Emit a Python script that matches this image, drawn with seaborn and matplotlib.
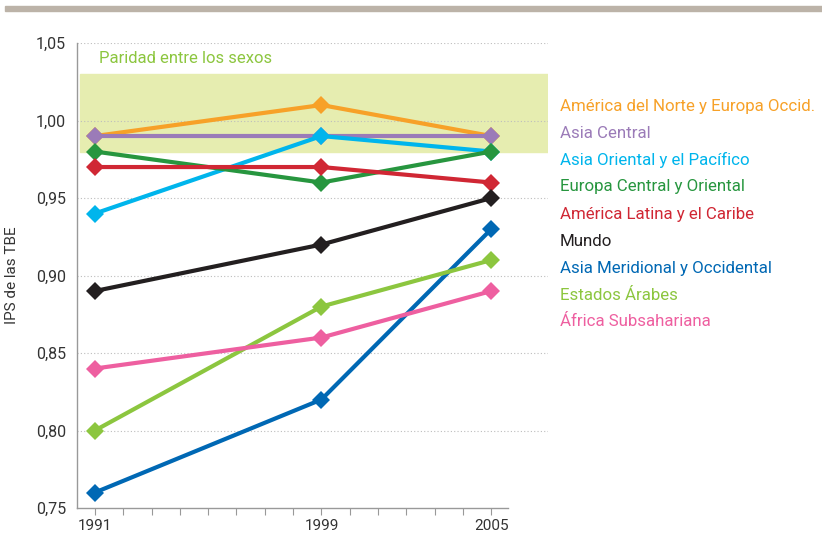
import pandas as pd
import numpy as np
import matplotlib
matplotlib.use('Agg')
import matplotlib.pyplot as plt
from matplotlib.patches import Rectangle
import seaborn as sns

sns.set_theme(style="white")
plt.rcParams['font.family'] = ['Roboto', 'DejaVu Sans']

# ── Data ───────────────────────────────────────────────────
years = [1991, 1999, 2005]
regions = ["América del Norte y Europa Occid.", "Asia Central",
           "Asia Oriental y el Pacífico", "Europa Central y Oriental",
           "América Latina y el Caribe", "Mundo",
           "Asia Meridional y Occidental", "Estados Árabes",
           "África Subsahariana"]
na_europe  = [0.99, 1.01, 0.99]
asia_c     = [0.99, 0.99, 0.99]
asia_or    = [0.94, 0.99, 0.98]
europa_co  = [0.98, 0.96, 0.98]
am_latina  = [0.97, 0.97, 0.96]
mundo      = [0.89, 0.92, 0.95]
asia_mer   = [0.76, 0.82, 0.93]
arabes     = [0.80, 0.88, 0.91]
africa_ss  = [0.84, 0.86, 0.89]
series = [na_europe, asia_c, asia_or, europa_co, am_latina,
          mundo, asia_mer, arabes, africa_ss]
colors = ["#f7a128", "#9b7bb8", "#00b5ec", "#27963f", "#d02734",
          "#231f20", "#0068b4", "#8cc63f", "#ee5fa0"]
yticks = [0.75, 0.80, 0.85, 0.90, 0.95, 1.00, 1.05]
parity = (0.98, 1.03)

df = pd.DataFrame([(r, y, v) for r, vals in zip(regions, series)
                   for y, v in zip(years, vals)],
                  columns=["Region", "Year", "IPS"])

# ── Figure ─────────────────────────────────────────────────
fig = plt.figure(figsize=(8.22, 5.36), dpi=100)
ax = fig.add_axes([0.0937, 0.0522, 0.573, 0.8675])

fig.patches.append(Rectangle((5/822, 1 - 11/536), 1, 5/536,
                             transform=fig.transFigure, color="#bcb3a8"))

ax.axhspan(parity[0], parity[1], xmin=0.006, xmax=1, color="#e6edb0", zorder=0)
for t in yticks[1:]:
    ax.axhline(t, color="#bdbdbd", lw=0.8, ls=(0, (1, 2)), zorder=0.5)
ax.text(1991.15, 1.04, "Paridad entre los sexos", color="#8cc63f",
        fontsize=12, va="center", ha="left")

for reg, col in zip(regions, colors):
    sns.lineplot(data=df[df["Region"] == reg], x="Year", y="IPS", ax=ax,
                 color=col, lw=3.0, marker="D", markersize=9.5,
                 markeredgewidth=0, legend=False)

# label list on the right
for i, (reg, col) in enumerate(zip(regions, colors)):
    fig.text(560/822, 1 - (106 + 27*i)/536, reg, color=col, fontsize=12.2,
             va="center", ha="left")

ax.set_xlim(1990.37, 2007)
ax.set_ylim(0.75, 1.05)
ax.set_xticks(range(1991, 2006))
ax.set_xticklabels([str(y) if y in years else "" for y in range(1991, 2006)],
                   fontsize=11, color="#333333")
ax.set_yticks(yticks)
ax.set_yticklabels([f"{t:.2f}".replace(".", ",") for t in yticks],
                   fontsize=11.5, color="#333333")
ax.tick_params(axis="x", bottom=True, direction="out", length=5, width=0.8,
               color="#999999", pad=3)
ax.tick_params(axis="y", length=0, pad=8)
ax.set_xlabel("")
ax.set_ylabel("IPS de las TBE", fontsize=11, color="#333333", labelpad=12)

for s in ["top", "right"]:
    ax.spines[s].set_visible(False)
for s in ["left", "bottom"]:
    ax.spines[s].set_color("#999999")
    ax.spines[s].set_linewidth(1.0)
ax.spines["bottom"].set_bounds(1990.37, 2005.6)

fig.savefig("out.png", dpi=100)
